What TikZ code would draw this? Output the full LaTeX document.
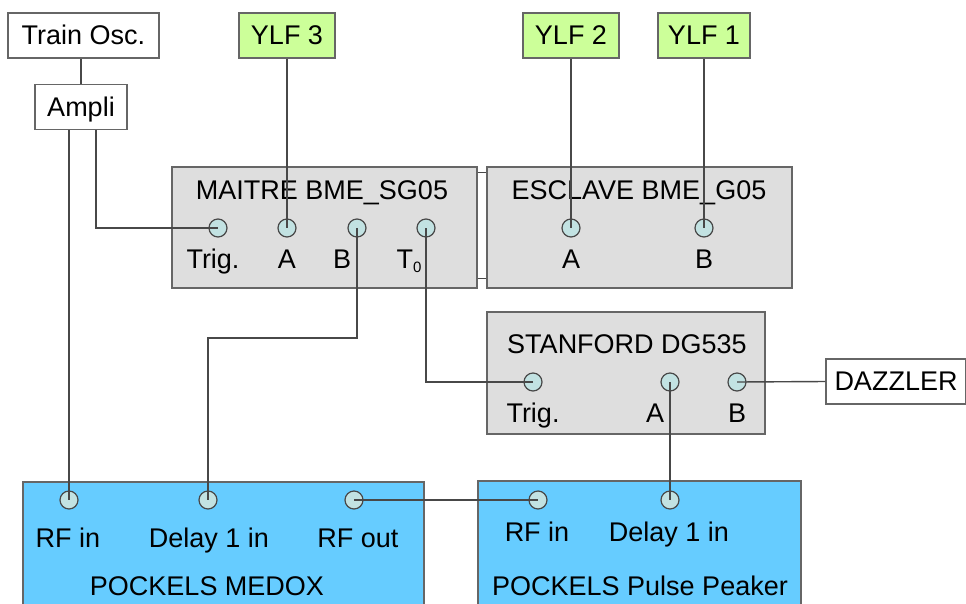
\documentclass[tikz,border=0pt]{standalone}
\usepackage{fontspec}
\setmainfont{Liberation Sans}
\usetikzlibrary{calc}
\definecolor{boxgrey}{HTML}{DEDEDE}
\definecolor{ylfgreen}{HTML}{CCFF99}
\definecolor{pockblue}{HTML}{66CCFF}
\definecolor{portfill}{HTML}{C2E2E2}
\definecolor{edgegrey}{HTML}{666666}
\definecolor{wiregrey}{HTML}{484848}
\begin{document}
\begin{tikzpicture}[x=1pt,y=-1pt,
  every node/.style={font=\fontsize{27}{31}\selectfont, inner sep=0pt},
  box/.style={draw=edgegrey, line width=1.4pt, rectangle, text height=18pt, text depth=0pt},
  whitebox/.style={box, fill=white},
  greybox/.style={box, fill=boxgrey},
  greenbox/.style={box, fill=ylfgreen},
  bluebox/.style={box, fill=pockblue},
  port/.style={circle, draw=wiregrey, line width=1.2pt, fill=portfill, minimum size=18pt},
  wire/.style={draw=wiregrey, line width=1.4pt},
  lbl/.style={anchor=base}]
\useasboundingbox (0,0) rectangle (966,603);
\clip (0,0) rectangle (966,603);
% boxes
\node[whitebox, minimum width=151pt, minimum height=45pt] (train) at (83.5,35.5) {Train Osc.};
\node[whitebox, minimum width=92pt, minimum height=45pt] (ampli) at (81,107) {Ampli};
\node[greenbox, minimum width=96pt, minimum height=45pt] (ylf3) at (287,35.5) {YLF 3};
\node[greenbox, minimum width=96pt, minimum height=45pt] (ylf2) at (571,35.5) {YLF 2};
\node[greenbox, minimum width=92pt, minimum height=45pt] (ylf1) at (704,35.5) {YLF 1};
\node[greybox, minimum width=305pt, minimum height=121pt] (maitre) at (324.5,227.5) {};
\node[greybox, minimum width=305pt, minimum height=121pt] (esclave) at (639.5,227.5) {};
\node[greybox, minimum width=278pt, minimum height=122pt] (stanford) at (626,373) {};
\node[whitebox, minimum width=140pt, minimum height=45pt] (dazzler) at (896,381.5) {DAZZLER};
\node[bluebox, minimum width=401pt, minimum height=143pt] (medox) at (223.5,553.5) {};
\node[bluebox, minimum width=323pt, minimum height=143pt] (peaker) at (639.5,552.5) {};
% titles
\node[lbl] (tmaitre) at (322,199) {MAITRE BME\_SG05};
\node[lbl] (tesclave) at (639,199) {ESCLAVE BME\_G05};
\node[lbl] (tstanford) at (627,353) {STANFORD DG535};
\node[lbl] (tmedox) at (207,595) {POCKELS MEDOX};
\node[lbl] (tpeaker) at (640,595) {POCKELS Pulse Peaker};
% port labels
\node[lbl] (lmtrig) at (213,268) {Trig.};
\node[lbl] (lma) at (287,268) {A};
\node[lbl] (lmb) at (342,268) {B};
\node[lbl] (lmt) at (409,268) {T\raisebox{-0.3ex}{\fontsize{15}{18}\selectfont 0}};
\node[lbl] (lea) at (571,268) {A};
\node[lbl] (leb) at (704,268) {B};
\node[lbl] (lstrig) at (533,422) {Trig.};
\node[lbl] (lsa) at (655,422) {A};
\node[lbl] (lsb) at (737,422) {B};
\node[lbl] (lmrf) at (68,547) {RF in};
\node[lbl] (lmdel) at (209,547) {Delay 1 in};
\node[lbl] (lmrfo) at (358,547) {RF out};
\node[lbl] (lprf) at (537,541) {RF in};
\node[lbl] (lpdel) at (669,541) {Delay 1 in};
% ports
\node[port] (mtrig) at (218,228) {};
\node[port] (ma) at (287,228) {};
\node[port] (mb) at (357,228) {};
\node[port] (mt0) at (426,228) {};
\node[port] (ea) at (571,228) {};
\node[port] (eb) at (704,228) {};
\node[port] (strig) at (533,382) {};
\node[port] (sa) at (670,382) {};
\node[port] (sb) at (737,382) {};
\node[port] (mrf) at (69,500) {};
\node[port] (mdel) at (208,500) {};
\node[port] (mrfo) at (354,500) {};
\node[port] (prf) at (538,500) {};
\node[port] (pdel) at (670,500) {};
% wires
\path[wire] (ampli.north) -- (ampli.north |- train.south);
\path[wire] (mrf.center |- ampli.south) -- (mrf.center);
\path[wire] ([xshift=15pt]ampli.south) |- (mtrig.center);
\path[wire] (ylf3.south) -- (ma.center);
\path[wire] (ylf2.south) -- (ea.center);
\path[wire] (ylf1.south) -- (eb.center);
\path[wire] ($(maitre.north east)+(0,6)$) -- ($(esclave.north west)+(0,6)$);
\path[wire] ($(maitre.south east)+(0,-10)$) -- ($(esclave.south west)+(0,-10)$);
\path[wire] (mb.center) -- ++(0,110) -| (mdel.center);
\path[wire] (mt0.center) |- (strig.center);
\path[wire] (sa.center) -- (pdel.center);
\path[wire] (sb.center) -- (dazzler.west);
\path[wire] (mrfo.center) -- (prf.center);
\end{tikzpicture}
\end{document}
